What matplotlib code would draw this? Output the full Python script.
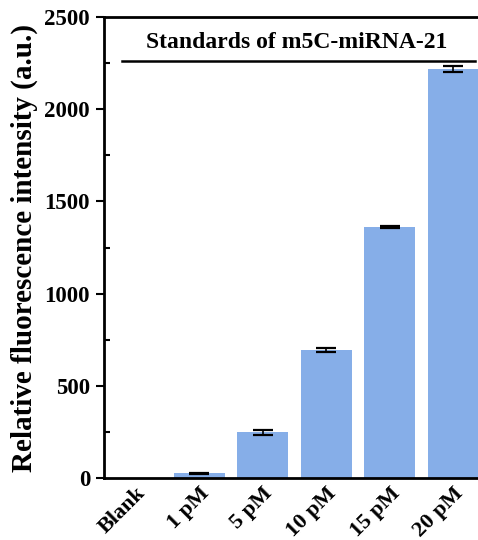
import matplotlib
matplotlib.use("Agg")
import matplotlib.pyplot as plt
from matplotlib.ticker import MultipleLocator
from matplotlib.lines import Line2D
import numpy as np

categories = ["Blank", "1 pM", "5 pM", "10 pM", "15 pM", "20 pM"]
values = [0, 25, 247, 694, 1360, 2217]
errors = [0, 4, 12, 10, 4, 15]
title_text = "Standards of m5C-miRNA-21"

plt.rcParams['font.family'] = ['Liberation Serif', 'DejaVu Serif']
plt.rcParams['font.weight'] = 'bold'

fig = plt.figure(figsize=(4.78, 5.40), dpi=100)
ax = fig.add_axes([104/478, 1-478/540, (485-104)/478, (478-17)/540])

x = np.arange(len(categories))
ax.bar(x, values, width=0.8, color='#86AEE8', zorder=2)
ax.errorbar(x[1:], values[1:], yerr=errors[1:], fmt='none', ecolor='black',
            elinewidth=1.2, capsize=7, capthick=1.6, zorder=3)

ax.set_xlim(-0.5, 5.5)
ax.set_ylim(0, 2500)
ax.yaxis.set_major_locator(MultipleLocator(500))
ax.yaxis.set_minor_locator(MultipleLocator(250))
ax.tick_params(axis='y', which='major', direction='out', length=6, width=1.5,
               labelsize=16.5, pad=4)
ax.tick_params(axis='y', which='minor', direction='in', length=4, width=1.5)
ax.tick_params(axis='x', length=0, labelsize=16, pad=4)
ax.set_xticks(x)
ax.set_xticklabels(categories, rotation=45, ha='right', rotation_mode='anchor',
                   fontweight='bold')
for lab in ax.get_yticklabels():
    lab.set_fontweight('bold')

for s in ['left', 'bottom', 'top']:
    ax.spines[s].set_linewidth(2)
ax.spines['right'].set_visible(False)

ax.set_ylabel("Relative fluorescence intensity (a.u.)", fontsize=21,
              fontweight='bold', labelpad=5)

fig.text(297/478, 1-43/540, title_text, ha='center', va='center',
         fontsize=17, fontweight='bold')
fig.add_artist(Line2D([122/478, 475/478], [1-61/540, 1-61/540],
                      transform=fig.transFigure, color='black', lw=1.8))

fig.savefig("out.png", dpi=100)
